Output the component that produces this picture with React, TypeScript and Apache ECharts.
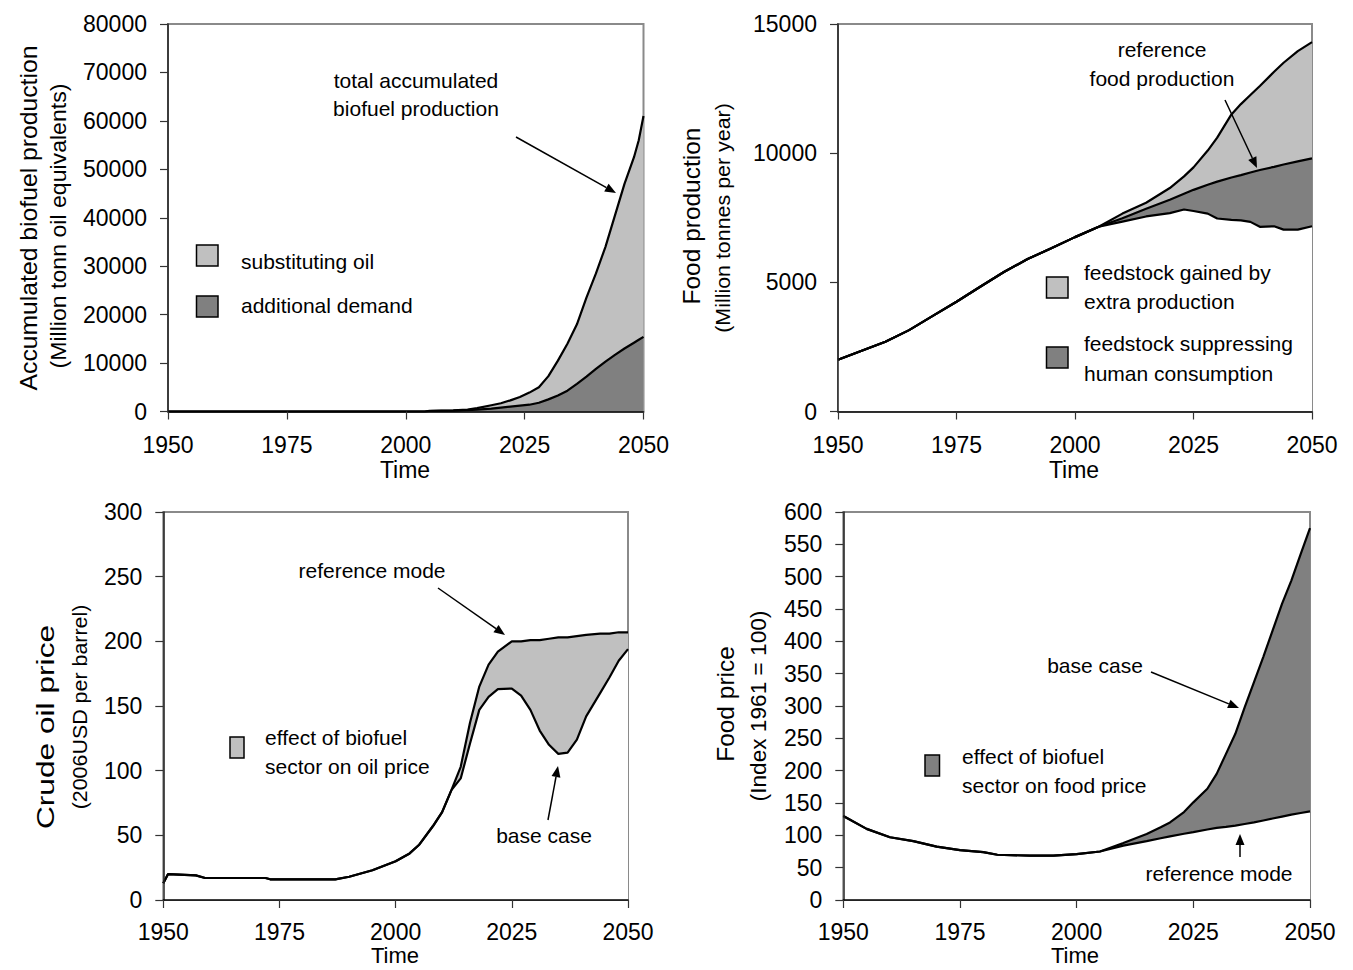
import React, { useEffect, useRef } from "react";
import * as echarts from "echarts";

const FONT = '"Liberation Sans", Arial, Helvetica, sans-serif';
const LIGHT = "#c0c0c0";
const DARK = "#808080";

// Panel 1: accumulated biofuel production (million tonn oil equivalents)
const p1Years = [1950, 2004, 2005, 2010, 2013, 2015, 2018, 2020, 2022, 2024, 2026, 2028, 2030, 2032, 2034, 2036, 2038, 2040, 2042, 2044, 2046, 2048, 2049, 2050];
const p1Total = [0, 0, 150, 250, 400, 700, 1300, 1700, 2300, 3000, 3900, 5000, 7300, 10500, 14000, 18000, 23500, 28500, 34000, 40500, 47000, 52500, 56000, 61000];
const p1Additional = [0, 0, 100, 200, 300, 400, 600, 800, 1000, 1200, 1400, 1800, 2500, 3300, 4300, 5700, 7200, 8800, 10300, 11700, 13000, 14200, 14800, 15400];

// Panel 2: food production (million tonnes per year)
const p2Years = [1950, 1955, 1960, 1965, 1970, 1975, 1980, 1985, 1990, 1995, 2000, 2005, 2010, 2015, 2020, 2023, 2025, 2028, 2030, 2033, 2035, 2037, 2039, 2042, 2044, 2047, 2050];
const p2Total = [2000, 2350, 2700, 3150, 3700, 4250, 4830, 5400, 5900, 6320, 6750, 7150, 7660, 8080, 8650, 9100, 9450, 10100, 10600, 11500, 11900, 12250, 12600, 13150, 13500, 13950, 14300];
const p2Reference = [2000, 2350, 2700, 3150, 3700, 4250, 4830, 5400, 5900, 6320, 6750, 7150, 7480, 7850, 8200, 8430, 8580, 8780, 8900, 9060, 9150, 9250, 9350, 9470, 9560, 9680, 9800];
const p2Human = [2000, 2350, 2700, 3150, 3700, 4250, 4830, 5400, 5900, 6320, 6750, 7150, 7350, 7550, 7680, 7820, 7760, 7660, 7470, 7420, 7400, 7340, 7150, 7170, 7040, 7040, 7170];

// Panel 3: crude oil price (2006 USD per barrel)
const p3Years = [1950, 1951, 1957, 1959, 1972, 1973, 1987, 1990, 1995, 2000, 2003, 2005, 2008, 2010, 2012, 2014, 2016, 2018, 2020, 2022, 2025, 2027, 2029, 2031, 2033, 2035, 2037, 2039, 2041, 2044, 2046, 2048, 2050];
const p3Reference = [13, 20, 19, 17, 17, 16, 16, 18, 23, 30, 36, 42.5, 57, 68, 85, 103, 137, 165, 182, 192, 200, 200, 201, 201, 202, 203, 203, 204, 205, 206, 206, 207, 207];
const p3Base = [13, 20, 19, 17, 17, 16, 16, 18, 23, 30, 36, 42.5, 57, 68, 85, 94, 121, 147, 157, 163, 163.5, 158, 147, 131, 120, 113, 114, 124, 142, 160, 172, 185, 194];

// Panel 4: food price (index 1961 = 100)
const p4Years = [1950, 1955, 1960, 1965, 1970, 1975, 1980, 1983, 1990, 1995, 2000, 2005, 2010, 2015, 2018, 2020, 2023, 2025, 2028, 2030, 2032, 2034, 2036, 2038, 2040, 2042, 2044, 2046, 2048, 2050];
const p4Base = [130, 110, 97, 91, 82.5, 77, 74, 70, 68.6, 68.6, 71, 75, 88, 102, 112.5, 120, 136, 151, 172, 195, 226, 257, 298, 337, 376, 417, 458, 494, 535, 575];
const p4Reference = [130, 110, 97, 91, 82.5, 77, 74, 70, 68.6, 68.6, 71, 75, 84, 91, 95.5, 98.5, 102.5, 105, 109, 111.5, 113, 115, 117.5, 120, 123, 126, 129, 132, 134.5, 137];

const xTicks = { min: 1950, max: 2050, interval: 25 };
const yScales = [
  { max: 80000, interval: 10000 },
  { max: 15000, interval: 5000 },
  { max: 300, interval: 50 },
  { max: 600, interval: 50 },
];

const GRIDS = [
  { left: 168, top: 24, width: 475.5, height: 387.5 },
  { left: 838, top: 24, width: 474, height: 387.5 },
  { left: 163.3, top: 512, width: 464.7, height: 388 },
  { left: 843.3, top: 512, width: 466.7, height: 388 },
];

const pts = (xs: number[], ys: number[]) => xs.map((x, i) => [x, ys[i]]);

const fill = (g: number, data: number[][], color: string) => ({
  type: "line",
  xAxisIndex: g,
  yAxisIndex: g,
  data,
  symbol: "none",
  silent: true,
  lineStyle: { width: 0, opacity: 0 },
  areaStyle: { color, opacity: 1 },
  z: 2,
});

const line = (g: number, data: number[][]) => ({
  type: "line",
  xAxisIndex: g,
  yAxisIndex: g,
  data,
  symbol: "none",
  silent: true,
  lineStyle: { color: "#000", width: 2.2 },
  z: 3,
});

const txt = (
  x: number,
  y: number,
  text: string,
  size: number,
  align = "left",
  rotate = 0,
  stretch = 1
) => ({
  type: "text",
  x,
  y,
  rotation: rotate,
  scaleX: stretch,
  silent: true,
  z: 20,
  style: {
    text,
    fill: "#000",
    font: `${size}px ${FONT}`,
    fontSize: size,
    fontFamily: FONT,
    align,
    textAlign: align,
    verticalAlign: "middle",
    textVerticalAlign: "middle",
  },
});

const box = (x: number, y: number, w: number, h: number, color: string) => ({
  type: "rect",
  silent: true,
  z: 20,
  shape: { x, y, width: w, height: h },
  style: { fill: color, stroke: "#000", lineWidth: 1.5 },
});

const arrow = (x1: number, y1: number, x2: number, y2: number) => {
  const ang = Math.atan2(y2 - y1, x2 - x1);
  const L = 11;
  const W = 4.5;
  const bx = x2 - L * Math.cos(ang);
  const by = y2 - L * Math.sin(ang);
  const px = -Math.sin(ang) * W;
  const py = Math.cos(ang) * W;
  return [
    {
      type: "line",
      silent: true,
      z: 20,
      shape: { x1, y1, x2: bx, y2: by },
      style: { stroke: "#000", lineWidth: 1.5 },
    },
    {
      type: "polygon",
      silent: true,
      z: 20,
      shape: { points: [[x2, y2], [bx + px, by + py], [bx - px, by - py]] },
      style: { fill: "#000" },
    },
  ];
};

export default function App() {
  const ref = useRef<HTMLDivElement>(null);

  useEffect(() => {
    if (!ref.current) return;
    const chart = echarts.init(ref.current, undefined, { renderer: "svg" });

    const grid = GRIDS.map((g) => ({
      ...g,
      show: true,
      borderColor: "#8a8a8a",
      borderWidth: 2,
      backgroundColor: "transparent",
    }));

    const xAxis = GRIDS.map((_, i) => ({
      type: "value",
      gridIndex: i,
      ...xTicks,
      z: 10,
      axisLine: { show: true, onZero: false, lineStyle: { color: "#000", width: 1.5 } },
      axisTick: { show: true, length: 8, lineStyle: { color: "#333", width: 1.2 } },
      axisLabel: {
        fontSize: 23,
        color: "#000",
        fontFamily: FONT,
        margin: i < 2 ? 22 : 20,
        formatter: (v: number) => String(v),
      },
      splitLine: { show: false },
    }));

    const yAxis = GRIDS.map((_, i) => ({
      type: "value",
      gridIndex: i,
      min: 0,
      max: yScales[i].max,
      interval: yScales[i].interval,
      z: 10,
      axisLine: { show: true, onZero: false, lineStyle: { color: "#222", width: 1.5 } },
      axisTick: { show: true, length: 8, lineStyle: { color: "#333", width: 1.2 } },
      axisLabel: {
        fontSize: 23,
        color: "#000",
        fontFamily: FONT,
        margin: 21,
        formatter: (v: number) => String(v),
      },
      splitLine: { show: false },
    }));

    const series = [
      // panel 1
      fill(0, pts(p1Years, p1Total), LIGHT),
      fill(0, pts(p1Years, p1Additional), DARK),
      line(0, pts(p1Years, p1Total)),
      line(0, pts(p1Years, p1Additional)),
      // panel 2
      fill(1, pts(p2Years, p2Total), LIGHT),
      fill(1, pts(p2Years, p2Reference), DARK),
      fill(1, pts(p2Years, p2Human), "#ffffff"),
      line(1, pts(p2Years, p2Total)),
      line(1, pts(p2Years, p2Reference)),
      line(1, pts(p2Years, p2Human)),
      // panel 3
      fill(2, pts(p3Years, p3Reference), LIGHT),
      fill(2, pts(p3Years, p3Base), "#ffffff"),
      line(2, pts(p3Years, p3Reference)),
      line(2, pts(p3Years, p3Base)),
      // panel 4
      fill(3, pts(p4Years, p4Base), DARK),
      fill(3, pts(p4Years, p4Reference), "#ffffff"),
      line(3, pts(p4Years, p4Base)),
      line(3, pts(p4Years, p4Reference)),
    ];

    const R = Math.PI / 2;
    const graphic = [
      // axis titles
      txt(29, 218, "Accumulated biofuel production", 24, "center", R, 1.03),
      txt(59, 226, "(Million tonn oil equivalents)", 22, "center", R, 1.05),
      txt(692, 216, "Food production", 24, "center", R, 1.02),
      txt(723, 218, "(Million tonnes per year)", 21, "center", R, 1.02),
      txt(46, 727, "Crude oil price", 24, "center", R, 1.32),
      txt(80, 707, "(2006USD per barrel)", 21, "center", R, 1.02),
      txt(726, 704, "Food price", 24, "center", R, 1.02),
      txt(759, 706, "(Index 1961 = 100)", 22, "center", R, 1.03),
      // Time labels
      txt(405, 470, "Time", 23, "center"),
      txt(1074, 470, "Time", 23, "center"),
      txt(395, 955, "Time", 22, "center"),
      txt(1075, 955, "Time", 22, "center"),
      // panel 1 annotations
      txt(416, 80, "total accumulated", 21, "center"),
      txt(416, 108, "biofuel production", 21, "center"),
      ...arrow(516, 137, 616, 193),
      box(196.5, 245, 21.5, 21, LIGHT),
      box(196.5, 296, 21.5, 21, DARK),
      txt(241, 261, "substituting oil", 21),
      txt(241, 305, "additional demand", 21),
      // panel 2 annotations
      txt(1162, 49, "reference", 21, "center"),
      txt(1162, 78, "food production", 21, "center"),
      ...arrow(1225, 100, 1257, 168),
      box(1046.5, 277, 21.5, 21, LIGHT),
      box(1046.5, 347, 21.5, 21, DARK),
      txt(1084, 272, "feedstock gained by", 21),
      txt(1084, 301, "extra production", 21),
      txt(1084, 343, "feedstock suppressing", 21),
      txt(1084, 373, "human consumption", 21),
      // panel 3 annotations
      txt(372, 570, "reference mode", 21, "center"),
      ...arrow(438, 588, 505, 635),
      txt(544, 835, "base case", 21, "center"),
      ...arrow(548, 820, 558, 766),
      box(230, 737, 14, 21, LIGHT),
      txt(265, 737, "effect of biofuel", 21),
      txt(265, 766, "sector on oil price", 21),
      // panel 4 annotations
      txt(1095, 665, "base case", 21, "center"),
      ...arrow(1151, 672, 1239, 708),
      txt(1219, 873, "reference mode", 21, "center"),
      ...arrow(1240, 857, 1240, 834),
      box(925, 755, 14.5, 21, DARK),
      txt(962, 756, "effect of biofuel", 21),
      txt(962, 785, "sector on food price", 21),
    ];

    chart.setOption({
      animation: false,
      backgroundColor: "#ffffff",
      textStyle: { fontFamily: FONT },
      grid,
      xAxis,
      yAxis,
      series,
      graphic,
    } as any);

    return () => chart.dispose();
  }, []);

  return (
    <div
      ref={ref}
      style={{ position: "absolute", left: 0, top: 0, width: 1353, height: 970 }}
    />
  );
}
